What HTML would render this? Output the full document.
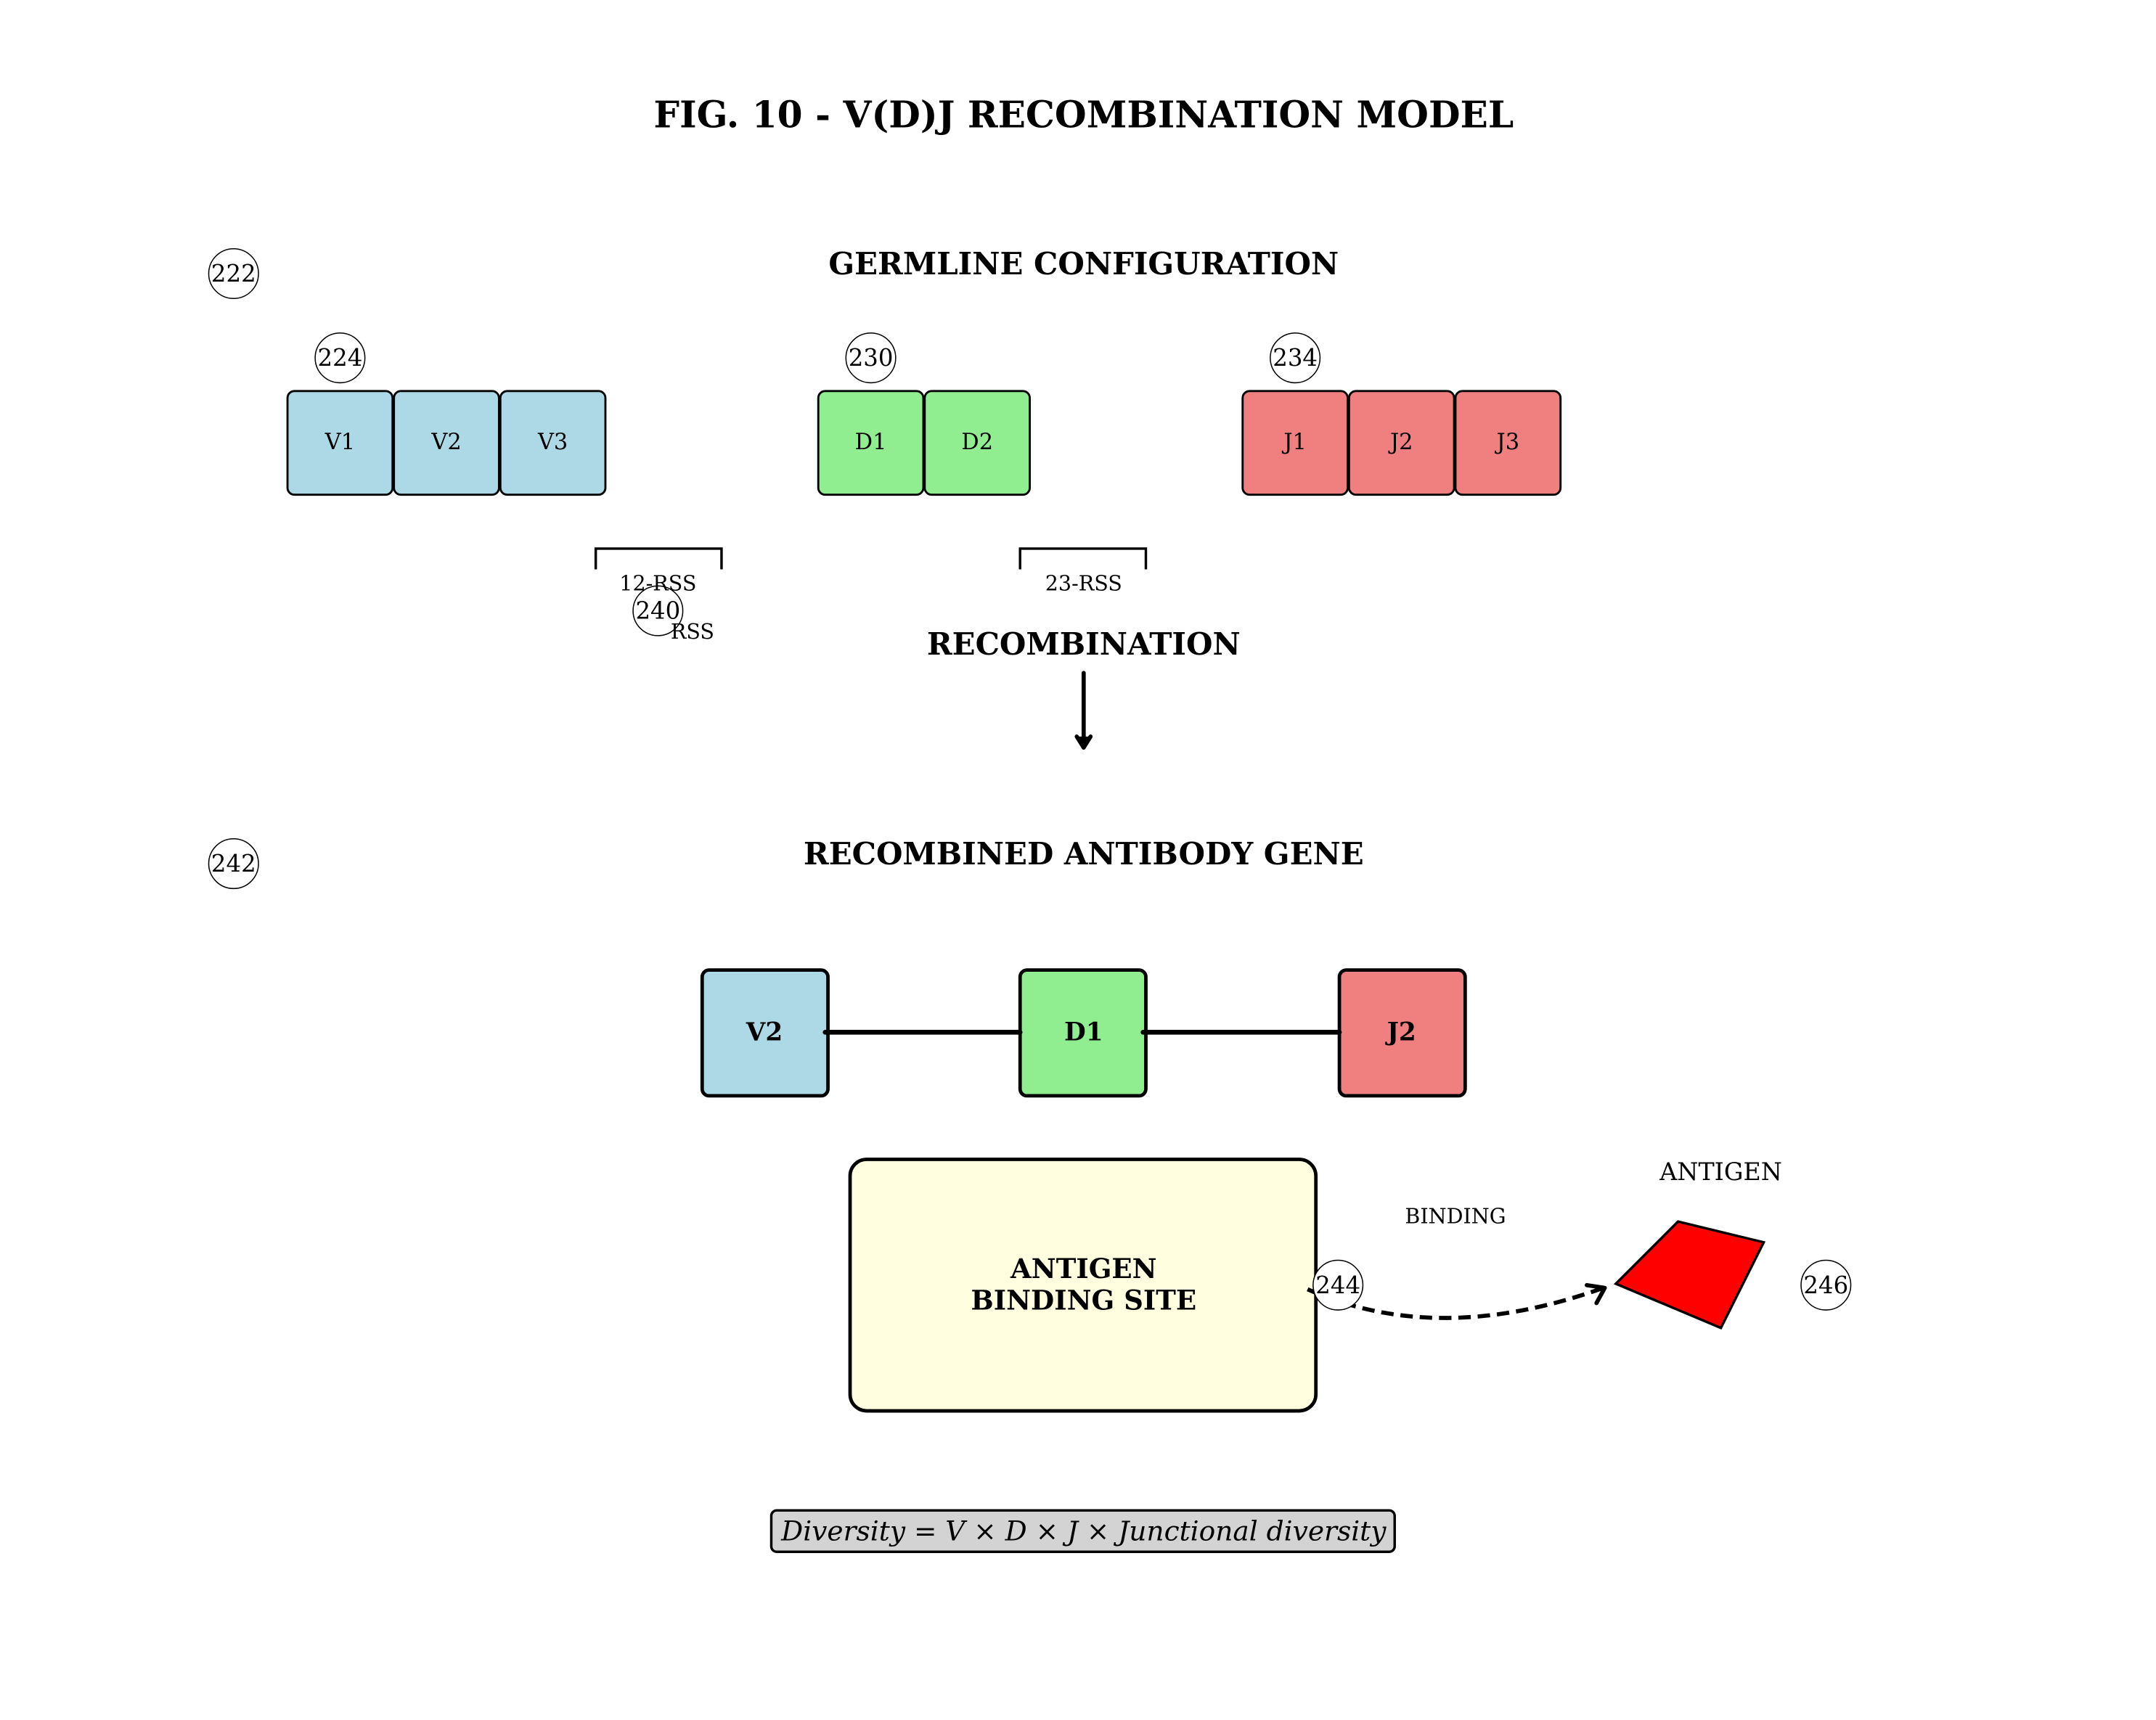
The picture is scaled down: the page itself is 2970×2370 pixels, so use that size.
<!DOCTYPE html>
<html><head><meta charset="utf-8"><style>
html,body{margin:0;padding:0;background:#fff;}
svg{display:block;}
text{font-family:"DejaVu Serif","Liberation Serif",serif;fill:#000;dominant-baseline:central;}
.b{font-weight:bold;}
</style></head><body>
<svg width="2970" height="2370" viewBox="0 0 1559.8 1244.7" preserveAspectRatio="none" xmlns="http://www.w3.org/2000/svg">
<rect x="0" y="0" width="1560" height="1245" fill="#fff"/>
<text x="784" y="83" text-anchor="middle" class="b" font-size="26.4">FIG. 10 - V(D)J RECOMBINATION MODEL</text>
<text x="784" y="191" text-anchor="middle" class="b" font-size="22">GERMLINE CONFIGURATION</text>

<g stroke="#000" stroke-width="1.5">
<rect x="208" y="283" width="76" height="75" rx="5" fill="#add8e6"/>
<rect x="285" y="283" width="76" height="75" rx="5" fill="#add8e6"/>
<rect x="362" y="283" width="76" height="75" rx="5" fill="#add8e6"/>
<rect x="592" y="283" width="76" height="75" rx="5" fill="#90ee90"/>
<rect x="669" y="283" width="76" height="75" rx="5" fill="#90ee90"/>
<rect x="899" y="283" width="76" height="75" rx="5" fill="#f08080"/>
<rect x="976" y="283" width="76" height="75" rx="5" fill="#f08080"/>
<rect x="1053" y="283" width="76" height="75" rx="5" fill="#f08080"/>
</g>
<g font-size="16" text-anchor="middle">
<text x="246" y="320">V1</text><text x="323" y="320">V2</text><text x="400" y="320">V3</text>
<text x="630" y="320">D1</text><text x="707" y="320">D2</text>
<text x="937" y="320">J1</text><text x="1014" y="320">J2</text><text x="1091" y="320">J3</text>
</g>

<g fill="#fff" stroke="#000" stroke-width="0.8">
<circle cx="169" cy="198" r="18"/><circle cx="246" cy="259" r="18"/>
<circle cx="630" cy="259" r="18"/><circle cx="937" cy="259" r="18"/>
<circle cx="169" cy="625" r="18"/>
</g>
<g font-size="17" text-anchor="middle">
<text x="169" y="198">222</text><text x="246" y="259">224</text>
<text x="630" y="259">230</text><text x="937" y="259">234</text>
<text x="169" y="625">242</text>
</g>

<g fill="none" stroke="#000" stroke-width="1.8">
<path d="M431 412 V397 H522 V412"/>
<path d="M738 412 V397 H829 V412"/>
</g>
<text x="476" y="422" text-anchor="middle" font-size="15">12-RSS</text>
<text x="784" y="422" text-anchor="middle" font-size="15">23-RSS</text>
<circle cx="476" cy="442" r="18" fill="none" stroke="#000" stroke-width="0.8"/>
<text x="476" y="442" text-anchor="middle" font-size="17">240</text>
<text x="501" y="457" text-anchor="middle" font-size="15">RSS</text>

<text x="784" y="466" text-anchor="middle" class="b" font-size="22">RECOMBINATION</text>
<line x1="784" y1="487" x2="784" y2="540" stroke="#000" stroke-width="3" stroke-linecap="round"/>
<path d="M779 533 L784 541 L789 533" fill="#000" stroke="#000" stroke-width="3" stroke-linecap="round" stroke-linejoin="round"/>

<text x="784" y="618" text-anchor="middle" class="b" font-size="22">RECOMBINED ANTIBODY GENE</text>

<g stroke="#000" stroke-width="2.5">
<rect x="508" y="702" width="91" height="91" rx="5" fill="#add8e6"/>
<rect x="738" y="702" width="91" height="91" rx="5" fill="#90ee90"/>
<rect x="969" y="702" width="91" height="91" rx="5" fill="#f08080"/>
</g>
<g stroke="#000" stroke-width="3.5" stroke-linecap="round">
<line x1="597" y1="747" x2="738" y2="747"/>
<line x1="827" y1="747" x2="969" y2="747"/>
</g>
<g class="b" font-size="18" text-anchor="middle">
<text x="553" y="747">V2</text><text x="784" y="747">D1</text><text x="1014" y="747">J2</text>
</g>

<rect x="615" y="839" width="337" height="182" rx="12" fill="#ffffe0" stroke="#000" stroke-width="2.5"/>
<text x="784" y="918" text-anchor="middle" class="b" font-size="19.5">ANTIGEN</text>
<text x="784" y="941" text-anchor="middle" class="b" font-size="19.5">BINDING SITE</text>

<path d="M946 933 Q 1040 975 1160 932" fill="none" stroke="#000" stroke-width="3" stroke-dasharray="9,5"/>
<path d="M1148 930 L1161 932 L1155 943" fill="none" stroke="#000" stroke-width="3" stroke-linecap="round" stroke-linejoin="round"/>
<circle cx="968" cy="930" r="18" fill="#fff" stroke="#000" stroke-width="0.8"/>
<text x="968" y="930" text-anchor="middle" font-size="17">244</text>

<text x="1053" y="880" text-anchor="middle" font-size="15">BINDING</text>
<text x="1245" y="848" text-anchor="middle" font-size="17.5">ANTIGEN</text>
<polygon points="1169,929 1214,884 1276,899 1245,961" fill="#ff0000" stroke="#000" stroke-width="1.8"/>
<circle cx="1321" cy="930" r="18" fill="#fff" stroke="#000" stroke-width="0.8"/>
<text x="1321" y="930" text-anchor="middle" font-size="17">246</text>

<rect x="558" y="1093" width="451" height="30" rx="4" fill="#d3d3d3" stroke="#000" stroke-width="1.8"/>
<text x="784" y="1108" text-anchor="middle" font-size="19.7" font-style="italic">Diversity = V × D × J × Junctional diversity</text>
</svg>
</body></html>
